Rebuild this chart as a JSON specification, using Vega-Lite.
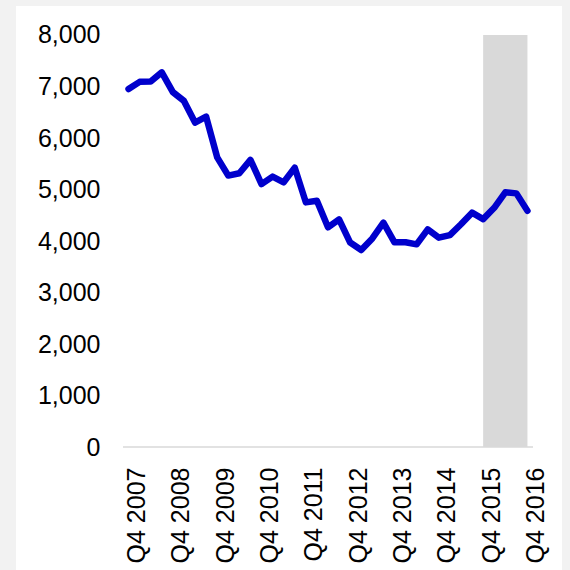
{
  "$schema": "https://vega.github.io/schema/vega-lite/v6.json",
  "autosize": {"type": "none"},
  "width": 546,
  "height": 564,
  "padding": {"left": 16, "top": 6, "right": 8, "bottom": 0},
  "background": "#f2f2f2",
  "config": {
    "view": {"fill": "#ffffff", "stroke": null},
    "font": "Liberation Sans"
  },
  "datasets": {
    "series": [
      {"i": 0, "q": "Q4 2007", "v": 6950},
      {"i": 1, "q": "Q1 2008", "v": 7090},
      {"i": 2, "q": "Q2 2008", "v": 7095},
      {"i": 3, "q": "Q3 2008", "v": 7275},
      {"i": 4, "q": "Q4 2008", "v": 6890},
      {"i": 5, "q": "Q1 2009", "v": 6720},
      {"i": 6, "q": "Q2 2009", "v": 6300},
      {"i": 7, "q": "Q3 2009", "v": 6415},
      {"i": 8, "q": "Q4 2009", "v": 5625},
      {"i": 9, "q": "Q1 2010", "v": 5270},
      {"i": 10, "q": "Q2 2010", "v": 5315},
      {"i": 11, "q": "Q3 2010", "v": 5575},
      {"i": 12, "q": "Q4 2010", "v": 5105},
      {"i": 13, "q": "Q1 2011", "v": 5250},
      {"i": 14, "q": "Q2 2011", "v": 5140},
      {"i": 15, "q": "Q3 2011", "v": 5425},
      {"i": 16, "q": "Q4 2011", "v": 4750},
      {"i": 17, "q": "Q1 2012", "v": 4780},
      {"i": 18, "q": "Q2 2012", "v": 4265},
      {"i": 19, "q": "Q3 2012", "v": 4420},
      {"i": 20, "q": "Q4 2012", "v": 3970},
      {"i": 21, "q": "Q1 2013", "v": 3825},
      {"i": 22, "q": "Q2 2013", "v": 4050},
      {"i": 23, "q": "Q3 2013", "v": 4355},
      {"i": 24, "q": "Q4 2013", "v": 3975},
      {"i": 25, "q": "Q1 2014", "v": 3975},
      {"i": 26, "q": "Q2 2014", "v": 3935},
      {"i": 27, "q": "Q3 2014", "v": 4225},
      {"i": 28, "q": "Q4 2014", "v": 4065},
      {"i": 29, "q": "Q1 2015", "v": 4115},
      {"i": 30, "q": "Q2 2015", "v": 4325},
      {"i": 31, "q": "Q3 2015", "v": 4550},
      {"i": 32, "q": "Q4 2015", "v": 4425},
      {"i": 33, "q": "Q1 2016", "v": 4645},
      {"i": 34, "q": "Q2 2016", "v": 4945},
      {"i": 35, "q": "Q3 2016", "v": 4925},
      {"i": 36, "q": "Q4 2016", "v": 4585}
    ],
    "band": [{"start": 32, "end": 36, "lo": 0, "hi": 8000}],
    "base": [{"start": -0.5, "end": 36.5, "y": 0}]
  },
  "layer": [
    {
      "data": {"name": "band"},
      "mark": {"type": "rect", "color": "#d9d9d9"},
      "encoding": {
        "x": {"field": "start", "type": "quantitative", "scale": {"domain": [-10.156, 39.117], "nice": false, "zero": false},
          "axis": {
            "orient": "bottom",
            "offset": -123,
            "values": [0, 4, 8, 12, 16, 20, 24, 28, 32, 36],
            "labelExpr": "'Q4 ' + (2007 + datum.value / 4)",
            "labelAngle": 270,
            "labelAlign": "right",
            "labelBaseline": "middle",
            "labelPadding": 20,
            "labelOffset": 8,
            "labelFontSize": 25,
            "labelColor": "#000000",
            "labelFont": "Liberation Sans",
            "labelOverlap": false,
            "labelFlush": false,
            "ticks": false,
            "tickSize": 0,
            "domain": false,
            "grid": false,
            "title": null
          }
        },
        "x2": {"field": "end"},
        "y": {"field": "lo", "type": "quantitative", "scale": {"domain": [-2388.3, 8563.1], "nice": false, "zero": false},
          "axis": {
            "orient": "left",
            "offset": -107,
            "values": [0, 1000, 2000, 3000, 4000, 5000, 6000, 7000, 8000],
            "format": ",d",
            "labelPadding": 23,
            "labelFontSize": 25,
            "labelColor": "#000000",
            "labelFont": "Liberation Sans",
            "labelOverlap": false,
            "labelFlush": false,
            "ticks": false,
            "tickSize": 0,
            "domain": false,
            "grid": false,
            "title": null
          }
        },
        "y2": {"field": "hi"}
      }
    },
    {
      "data": {"name": "base"},
      "mark": {"type": "rule", "color": "#d9d9d9", "strokeWidth": 1.5},
      "encoding": {
        "x": {"field": "start", "type": "quantitative"},
        "x2": {"field": "end"},
        "y": {"field": "y", "type": "quantitative"}
      }
    },
    {
      "data": {"name": "series"},
      "mark": {"type": "line", "color": "#0000cc", "strokeWidth": 6.5, "strokeCap": "round", "strokeJoin": "round"},
      "encoding": {
        "x": {"field": "i", "type": "quantitative"},
        "y": {"field": "v", "type": "quantitative"}
      }
    }
  ]
}
